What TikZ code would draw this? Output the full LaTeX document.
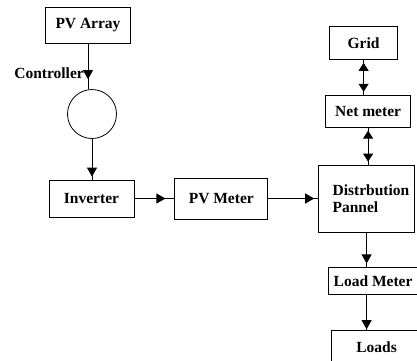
\documentclass[tikz,border=0pt]{standalone}
\usepackage{fontspec}
\setmainfont{Liberation Serif}
\usetikzlibrary{positioning, arrows.meta, decorations.markings}

\begin{document}
\begin{tikzpicture}[
        x=1pt, y=-1pt,
        block/.style={
          rectangle,
          draw=black,
          line width=0.8pt,
          fill=white,
          align=center,
          inner sep=2pt,
          font=\fontsize{15.5}{17}\selectfont\bfseries
        },
        lbl/.style={
          inner sep=0pt,
          font=\fontsize{15.5}{17}\selectfont\bfseries
        },
        arrow/.style={
          draw=black,
          line width=0.8pt,
          postaction={decorate},
          decoration={markings,
            mark=at position -#1 with {\arrow{Triangle[length=9pt,width=10pt]}}}
        },
        arrow/.default=1pt,
        dblarrow/.style={
          draw=black,
          line width=0.8pt,
          postaction={decorate},
          decoration={markings,
            mark=at position #1 with {\arrowreversed{Triangle[length=8pt,width=10pt]}},
            mark=at position -#1 with {\arrow{Triangle[length=8pt,width=10pt]}}}
        },
        dblarrow/.default=3pt
      ]
      \clip (0,0) rectangle (417,360);

      % Nodes
      \node [block, minimum width=85pt, minimum height=36pt] (pv) at (88,25) {PV Array};
      \node [circle, draw=black, line width=0.8pt, minimum size=49pt] (ctrl) at (92,114) {};
      \node [lbl, anchor=east] (ctrltxt) at (84,73) {Controller};
      \node [block, minimum width=85pt, minimum height=37pt] (inv) at (91.5,198.5) {Inverter};
      \node [block, minimum width=93pt, minimum height=41pt, right=40pt of inv] (pvm) {PV Meter};
      \node [block, minimum width=96pt, minimum height=67pt, right=50pt of pvm,
             text width=68pt, align=left] (dist) {Distrbution\\Pannel\\[-4pt]};
      \node [block, minimum width=85pt, minimum height=32pt, above=37pt of dist, xshift=1.5pt] (net) {Net meter};
      \node [block, minimum width=68pt, minimum height=33pt, above=35pt of net, xshift=-4.5pt] (grid) {Grid};
      \node [block, minimum width=89pt, minimum height=27pt, below=35pt of dist, xshift=6.5pt] (lm) {Load Meter};
      \node [block, minimum width=90pt, minimum height=34pt, below=35pt of lm, xshift=3.5pt] (loads) {Loads};

      % Arrows
      \draw [arrow=10pt] (pv.south) -- (pv.south |- ctrl.north);
      \draw [arrow=3pt] (ctrl.south) -- (ctrl.south |- inv.north);
      \draw [arrow=9pt] (inv.east) -- (pvm.west);
      \draw [arrow=4pt] (pvm.east) -- (pvm.east -| dist.west);
      \draw [dblarrow] (grid.south) -- (grid.south |- net.north);
      \draw [dblarrow] (net.south) -- (net.south |- dist.north);
      \draw [arrow=4pt] (dist.south) -- (dist.south |- lm.north);
      \draw [arrow] (dist.south |- lm.south) -- (dist.south |- loads.north);

    \end{tikzpicture}
\end{document}
